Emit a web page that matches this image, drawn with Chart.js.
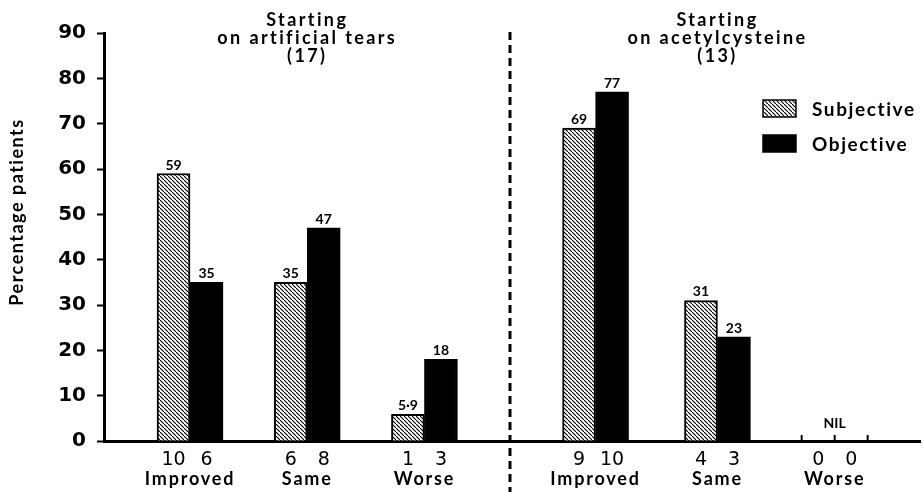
<!DOCTYPE html>
<html>
<head>
<meta charset="utf-8">
<script src="https://cdn.jsdelivr.net/npm/chart.js@4"></script>
<style>
  html, body { margin: 0; padding: 0; background: #fff; }
</style>
</head>
<body>
<canvas id="chart" width="922" height="492"></canvas>
<script>
let outcomes = ["Improved", "Same", "Worse", "Improved", "Same", "Worse"];
let subjective = [59, 35, 5.9, 69, 31, 0];
let objective = [35, 47, 18, 77, 23, 0];
let subjectiveN = [10, 6, 1, 9, 4, 0];
let objectiveN = [6, 8, 3, 10, 3, 0];
let yTicks = [0, 10, 20, 30, 40, 50, 60, 70, 80, 90];
let panelTitles = [
  ["Starting", "on artificial tears", "(17)"],
  ["Starting", "on acetylcysteine", "(13)"],
];

// layout only: where the groups, titles and divider sit on the x axis
let groupX = [0, 1, 2, 3.46, 4.5, 5.5];
let titleX = [1, 4.5];
let dividerX = 2.73;

let font = "Lato";
let numFont = "DejaVu Sans";

function hatch() {
  let tile = document.createElement("canvas");
  tile.width = 4;
  tile.height = 4;
  let g = tile.getContext("2d");
  g.fillStyle = "#fff";
  g.fillRect(0, 0, 4, 4);
  g.strokeStyle = "#000";
  g.lineWidth = 1.1;
  g.beginPath();
  g.moveTo(-1, -1);
  g.lineTo(5, 5);
  g.stroke();
  return g.createPattern(tile, "repeat");
}

let ink = {
  id: "ink",
  beforeDatasetsDraw(chart) {
    let { ctx, scales: { x }, chartArea: area } = chart;
    let dx = Math.round(x.getPixelForValue(dividerX));
    ctx.save();
    ctx.strokeStyle = "#000";
    ctx.lineWidth = 3;
    ctx.setLineDash([8, 5]);
    ctx.beginPath();
    ctx.moveTo(dx, area.top - 1);
    ctx.lineTo(dx, chart.height);
    ctx.stroke();
    ctx.restore();
  },
  afterDraw(chart) {
    let { ctx, scales: { x }, chartArea: area } = chart;
    let bars = [chart.getDatasetMeta(0).data, chart.getDatasetMeta(1).data];
    let series = [subjective, objective];
    let counts = [subjectiveN, objectiveN];
    ctx.save();
    ctx.fillStyle = "#000";
    ctx.strokeStyle = "#000";
    ctx.textAlign = "center";
    ctx.textBaseline = "alphabetic";

    // values over the bars
    ctx.font = "bold 14px " + font;
    series.forEach((vals, d) => vals.forEach((v, i) => {
      if (v) ctx.fillText(String(v).replace(".", "·"), bars[d][i].x, bars[d][i].y - 4);
    }));

    // empty groups: NIL and little ticks on the axis
    outcomes.forEach((o, i) => {
      if (subjective[i] || objective[i]) return;
      let a = bars[0][i], b = bars[1][i];
      ctx.fillText("NIL", x.getPixelForValue(groupX[i]), area.bottom - 13);
      ctx.lineWidth = 2;
      [a.x - a.width / 2, (a.x + b.x) / 2, b.x + b.width / 2].forEach(px => {
        ctx.beginPath();
        ctx.moveTo(px, area.bottom);
        ctx.lineTo(px, area.bottom - 6);
        ctx.stroke();
      });
    });

    // patient counts under each bar
    ctx.font = "19px " + numFont;
    counts.forEach((vals, d) => vals.forEach((v, i) => {
      ctx.fillText(String(v), bars[d][i].x, area.bottom + 24);
    }));

    // outcome names
    ctx.font = "bold 18px " + font;
    ctx.letterSpacing = "1.8px";
    outcomes.forEach((o, i) => ctx.fillText(o, x.getPixelForValue(groupX[i]), area.bottom + 44));

    // panel titles
    ctx.font = "bold 18px " + font;
    ctx.letterSpacing = "2.4px";
    panelTitles.forEach((lines, p) => lines.forEach((t, k) => {
      ctx.fillText(t, x.getPixelForValue(titleX[p]), area.top - 7 + k * 18);
    }));

    // legend
    let lx = area.right - 157;
    chart.data.datasets.forEach((ds, d) => {
      let ty = 100 + d * 35;
      ctx.fillStyle = ds.backgroundColor;
      ctx.fillRect(lx, ty, 33, 17);
      ctx.lineWidth = 1.5;
      ctx.strokeRect(lx, ty, 33, 17);
      ctx.fillStyle = "#000";
      ctx.textAlign = "left";
      ctx.font = "bold 19px " + font;
      ctx.letterSpacing = "1.6px";
      ctx.fillText(ds.label, lx + 49, ty + 16);
    });

    // y axis title
    ctx.translate(17, 212);
    ctx.rotate(-Math.PI / 2);
    ctx.textAlign = "center";
    ctx.textBaseline = "middle";
    ctx.font = "bold 18px " + font;
    ctx.letterSpacing = "1.5px";
    ctx.fillText("Percentage patients", 0, 0);
    ctx.restore();
  },
};

let el = document.getElementById("chart");
let ctx = el.getContext("2d");
let myChart = new Chart(ctx, {
  type: "bar",
  data: {
    datasets: [
      {
        label: "Subjective",
        backgroundColor: hatch(),
        data: subjective.map((v, i) => ({ x: groupX[i], y: v })),
      },
      {
        label: "Objective",
        backgroundColor: "#000",
        data: objective.map((v, i) => ({ x: groupX[i], y: v })),
      },
    ],
  },
  options: {
    responsive: false,
    animation: false,
    layout: { padding: { top: 33, right: 2, bottom: 51, left: 0 } },
    datasets: {
      bar: { barThickness: 33, borderColor: "#000", borderWidth: 2 },
    },
    plugins: {
      legend: { display: false },
      tooltip: { enabled: false },
    },
    scales: {
      x: {
        type: "linear",
        min: -0.734,
        max: 6.228,
        offset: false,
        ticks: { display: false },
        grid: { display: false, drawTicks: false },
        border: { display: true, color: "#000", width: 3 },
      },
      y: {
        min: 0,
        max: 90,
        afterFit(s) { s.width = 104; },
        afterBuildTicks(s) { s.ticks = yTicks.map(v => ({ value: v })); },
        ticks: {
          color: "#000",
          padding: 11,
          font: { family: numFont, size: 20, weight: "bold" },
        },
        grid: { drawOnChartArea: false, drawTicks: true, tickLength: 7, tickWidth: 2, color: "#000" },
        border: { display: true, color: "#000", width: 3 },
      },
    },
  },
  plugins: [ink],
});
</script>
</body>
</html>
